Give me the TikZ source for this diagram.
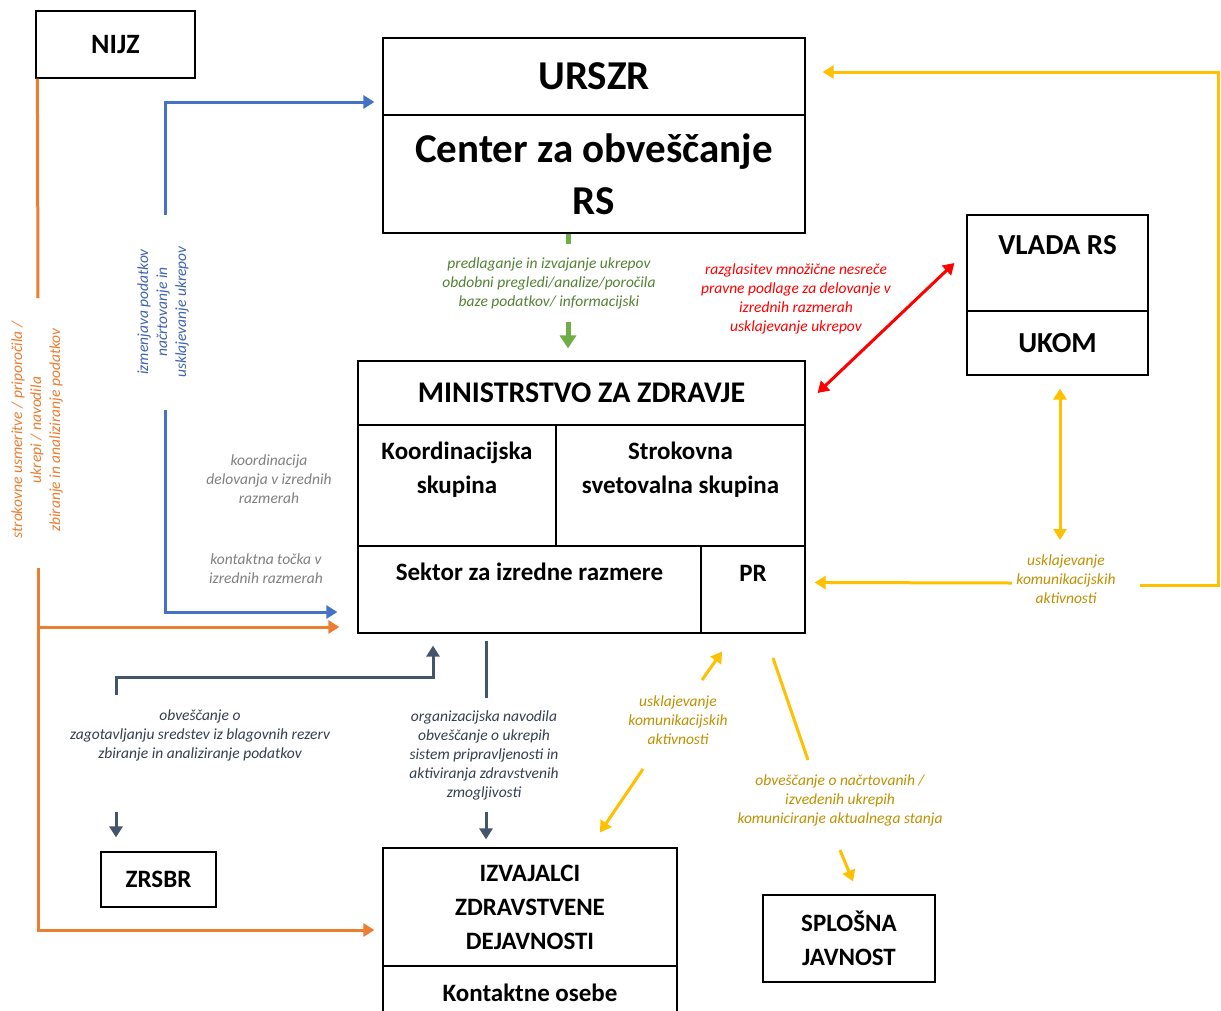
\documentclass[tikz,border=0pt]{standalone}
\usepackage{fontspec}
\setmainfont{Carlito}
\usetikzlibrary{arrows.meta, positioning}
\definecolor{LineOrange}{HTML}{ED7D31}
\definecolor{LineBlue}{HTML}{4472C4}
\definecolor{LineGreen}{HTML}{70AD47}
\definecolor{LineGold}{HTML}{FFC000}
\definecolor{LineSlate}{HTML}{44546A}
\definecolor{TxtGreen}{HTML}{548235}
\definecolor{TxtGold}{HTML}{BF9000}
\definecolor{TxtGrey}{HTML}{808080}
\definecolor{TxtSlate}{HTML}{333F50}
\definecolor{TxtBlue}{HTML}{3F63B0}

\begin{document}
\begin{tikzpicture}[x=1pt,y=-1pt,
  box/.style={draw, line width=1.2pt, inner sep=0pt, align=center,
              font=\bfseries\fontsize{25}{34}\selectfont},
  title/.style={inner sep=0pt, align=center, font=\bfseries\fontsize{25}{34}\selectfont},
  note/.style={inner sep=0pt, align=center, font=\itshape\fontsize{15.5}{19}\selectfont},
  flow/.style={line width=3pt, -{Triangle[width=13pt,length=11pt]}},
  twoway/.style={line width=3pt, {Triangle[width=13pt,length=11pt]}-{Triangle[width=13pt,length=11pt]}}]
\fill[white] (0,0) rectangle (1221,1010);
\useasboundingbox (0,0) rectangle (1221,1010);

% boxes
\node[box, minimum width=159pt, minimum height=67pt, font=\bfseries\fontsize{28}{34}\selectfont] (nijz) at (115.5,44.5) {NIJZ};
\node[box, minimum width=422pt, minimum height=77pt, font=\bfseries\fontsize{41}{52}\selectfont] (urszr) at (594,76.5) {URSZR};
\node[box, minimum width=422pt, minimum height=118pt, font=\bfseries\fontsize{41}{52}\selectfont] (center) at (594,174) {Center za obveščanje\\RS};
\node[box, minimum width=181pt, minimum height=96pt,
      label={[title, font=\bfseries\fontsize{29}{34}\selectfont, anchor=north, yshift=-21pt]north:VLADA RS}] (vlada) at (1057.5,263) {};
\node[box, minimum width=181pt, minimum height=64pt, font=\bfseries\fontsize{29}{34}\selectfont] (ukom) at (1057.5,343) {UKOM};
\node[box, minimum width=447pt, minimum height=64pt, font=\bfseries\fontsize{30}{34}\selectfont] (mz) at (581.5,393) {MINISTRSTVO ZA ZDRAVJE};
\node[box, minimum width=198pt, minimum height=121pt,
      label={[title, anchor=north, yshift=-17pt]north:Koordinacijska\\skupina}] (koord) at (457,485.5) {};
\node[box, minimum width=249pt, minimum height=121pt,
      label={[title, anchor=north, yshift=-17pt]north:Strokovna\\svetovalna skupina}] (strok) at (680.5,485.5) {};
\node[box, minimum width=343pt, minimum height=87pt,
      label={[title, anchor=north, yshift=-17pt]north:Sektor za izredne razmere}] (sektor) at (529.5,589.5) {};
\node[box, minimum width=104pt, minimum height=87pt,
      label={[title, anchor=north, yshift=-20pt]north:PR}] (pr) at (753,589.5) {};
\node[box, minimum width=115pt, minimum height=55pt] (zrsbr) at (158.5,879.5) {ZRSBR};
\node[box, minimum width=294pt, minimum height=118pt] (izv) at (530,907) {IZVAJALCI\\ZDRAVSTVENE\\DEJAVNOSTI};
\node[box, minimum width=294pt, minimum height=54pt] (kont) at (530,993) {Kontaktne osebe};
\node[box, minimum width=172pt, minimum height=87pt] (splosna) at (849,938.5) {SPLOŠNA\\JAVNOST};

% labels
\node[note, text=LineOrange, rotate=90] (norange) at (37,430) {strokovne usmeritve / priporočila /\\ukrepi / navodila\\zbiranje in analiziranje podatkov};
\node[note, text=TxtBlue, rotate=90] (nblue) at (163,312) {izmenjava podatkov\\načrtovanje in\\usklajevanje ukrepov};
\node[note, text=TxtGreen] (ngreen) at (549,283) {predlaganje in izvajanje ukrepov\\obdobni pregledi/analize/poročila\\baze podatkov/ informacijski};
\node[note, text=red] (nred) at (796,298.5) {razglasitev množične nesreče\\pravne podlage za delovanje v\\izrednih razmerah\\usklajevanje ukrepov};
\node[note, text=TxtGrey] (nkoord) at (269,479) {koordinacija\\delovanja v izrednih\\razmerah};
\node[note, text=TxtGrey] (nkontakt) at (266,569) {kontaktna točka v\\izrednih razmerah};
\node[note, text=TxtSlate] (nzrsbr) at (200,735) {obveščanje o\\zagotavljanju sredstev iz blagovnih rezerv\\zbiranje in analiziranje podatkov};
\node[note, text=TxtSlate] (nizv) at (484,755) {organizacijska navodila\\obveščanje o ukrepih\\sistem pripravljenosti in\\aktiviranja zdravstvenih\\zmogljivosti};
\node[note, text=TxtGold] (nukom) at (1066,579) {usklajevanje\\komunikacijskih\\aktivnosti};
\node[note, text=TxtGold] (npr) at (678,720) {usklajevanje\\komunikacijskih\\aktivnosti};
\node[note, text=TxtGold] (njavnost) at (840,800) {obveščanje o načrtovanih /\\izvedenih ukrepih\\komuniciranje aktualnega stanja};

% free ends
\coordinate (o1) at (38,298);
\coordinate (o2) at (38,568);
\coordinate (o3) at (38,627);
\coordinate (b1) at (165,215);
\coordinate (b2) at (165,410);
\coordinate (g1) at (568,322);
\coordinate (y1) at (1140,585);
\coordinate (y2) at (1218,72);
\coordinate (y3) at (1012,583);
\coordinate (y4) at (1060,540);
\coordinate (y5) at (702,680);
\coordinate (y6) at (643,769);
\coordinate (y7) at (773,658);
\coordinate (y8) at (808,760);
\coordinate (y9) at (840,850);
\coordinate (s1) at (116,695);
\coordinate (s3) at (116,812);
\coordinate (s4) at (486,812);

% NIJZ
\draw[LineOrange, line width=3pt] ([xshift=2pt]nijz.south west) -- (o1);
\draw[flow, LineOrange] (o2) |- ([xshift=-8pt,yshift=-23pt]izv.west);
\draw[flow, LineOrange] (o3) -- ([xshift=-18pt,yshift=-37.5pt]sektor.west);
% URSZR - MZ
\draw[flow, LineBlue] (b1) |- ([xshift=-8pt,yshift=-25.5pt]urszr.west);
\draw[flow, LineBlue] (b2) |- ([xshift=-20pt,yshift=-22.5pt]sektor.west);
\draw[LineGreen, line width=5pt] ([xshift=-26pt]center.south) -- ++(0,10);
\draw[LineGreen, line width=5pt, -{Triangle[width=16pt,length=13pt]}, shorten >=12pt] (g1) -- (g1 |- mz.north);
% VLADA
\draw[twoway, red] ([xshift=-12pt]vlada.west) -- ([xshift=12pt]mz.east);
\draw[flow, LineGold] (y1) -| (y2) -- ([xshift=17pt,yshift=4.5pt]urszr.east);
\draw[flow, LineGold] (y3) -- ([xshift=9pt,yshift=7pt]pr.east);
\draw[twoway, LineGold] ([xshift=2.5pt,yshift=-13pt]ukom.south) -- (y4);
% PR
\draw[flow, LineGold] (y5) -- ([xshift=-31pt,yshift=-18pt]pr.south);
\draw[flow, LineGold] (y6) -- ([xshift=70pt,yshift=15pt]izv.north);
\draw[LineGold, line width=3pt] (y7) -- (y8);
\draw[flow, LineGold] (y9) -- ([xshift=4pt,yshift=13pt]splosna.north);
% sektor
\draw[flow, LineSlate] (s1) -- ++(0,-18) -| ([xshift=-96.5pt,yshift=-12pt]sektor.south);
\draw[flow, LineSlate] (s3) -- ([xshift=-42.5pt,yshift=14pt]zrsbr.north);
\draw[LineSlate, line width=3pt] ([xshift=-43.5pt,yshift=-7pt]sektor.south) -- ++(0,57);
\draw[flow, LineSlate] (s4) -- ([xshift=-44pt,yshift=8pt]izv.north);
\end{tikzpicture}
\end{document}
